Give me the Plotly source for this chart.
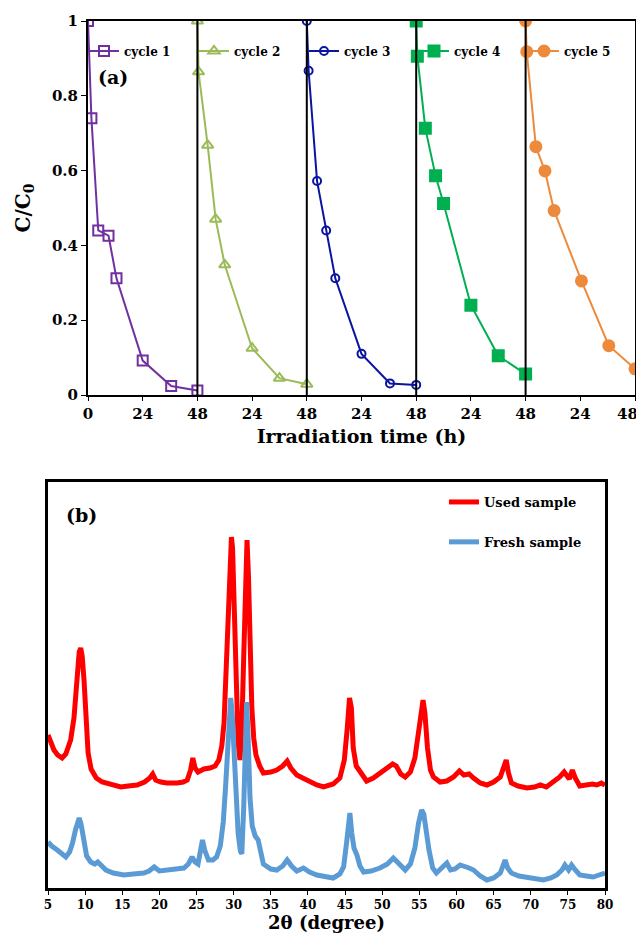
import plotly.graph_objects as go

# --- panel (a): photocatalytic cycles (time within each cycle, h) ---
cycle_names = ["cycle 1", "cycle 2", "cycle 3", "cycle 4", "cycle 5"]
cycle_len = 48

c1_t = [0, 1.5, 4.5, 9, 12.5, 24, 36.5, 48]
c1_y = [1.0, 0.74, 0.44, 0.426, 0.312, 0.092, 0.024, 0.012]
c2_t = [0, 0.5, 4.5, 8, 12, 24, 36, 48]
c2_y = [1.0, 0.864, 0.668, 0.47, 0.348, 0.125, 0.045, 0.029]
c3_t = [0, 0.8, 4.5, 8.5, 12.5, 24, 36.5, 48]
c3_y = [1.0, 0.867, 0.572, 0.44, 0.312, 0.11, 0.031, 0.027]
c4_t = [0, 0.5, 4, 8.5, 12, 24, 36, 48]
c4_y = [1.0, 0.906, 0.713, 0.586, 0.512, 0.24, 0.105, 0.056]
c5_t = [0, 0.5, 4.5, 8.5, 12.5, 24.5, 36.5, 48]
c5_y = [1.0, 0.918, 0.664, 0.599, 0.493, 0.305, 0.132, 0.07]

x_tickvals = [0, 24, 48, 72, 96, 120, 144, 168, 192, 216, 240]
# last label padded so it stays inside the page edge
x_ticktext = ["0", "24", "48", "24", "48", "24", "48", "24", "48", "24", "48\u2003"]

# --- panel (b): XRD patterns (2theta, intensity a.u.) ---
used_x = [5, 5.4, 5.8, 6.3, 6.9, 7.4, 8.05, 8.5, 8.9, 9.2, 9.4, 9.6, 9.85, 10.1, 10.4,
          10.8, 11.5, 12.3, 13.2, 14, 14.8, 15.8, 17, 18, 18.7, 19.1, 19.5, 20.2, 21,
          22.4, 23.2, 23.75, 24.2, 24.5, 24.8, 25.2, 26, 26.8, 27.5, 28, 28.4, 28.7,
          29.0, 29.3, 29.55, 29.7, 29.85, 30.05, 30.3, 30.6, 30.85, 31.1, 31.35, 31.6,
          31.8, 32.0, 32.2, 32.45, 32.7, 33.0, 33.5, 34, 35, 35.8, 36.6, 37.2, 37.7,
          38.5, 39.3, 40.3, 41.2, 42.1, 43.4, 44.3, 44.9, 45.3, 45.6, 45.85, 46.1,
          46.5, 46.9, 47.9, 48.8, 49.7, 50.6, 51.4, 51.9, 52.5, 53.1, 53.8, 54.4,
          54.9, 55.3, 55.5, 55.75, 56.1, 56.5, 56.9, 57.8, 58.7, 59.6, 60.4, 61.0,
          61.7, 62.3, 63.2, 64.1, 65.0, 65.9, 66.4, 66.7, 67.0, 67.4, 68.3, 69.5,
          70.5, 71.3, 72.1, 73.0, 73.9, 74.5, 74.9, 75.2, 75.6, 76.0, 76.6, 77.5,
          78.3, 78.9, 79.5, 80]
used_y = [153, 145, 138, 133, 130, 134, 148, 170, 212, 236, 240, 232, 208, 168, 135,
          119, 110, 106, 104, 102, 101, 102, 103, 106, 110, 114, 108, 106, 105,
          105, 106, 108, 118, 130, 120, 116, 119, 120, 122, 128, 142, 165,
          230, 300, 345, 351, 340, 280, 200, 145, 128, 160, 230, 320,
          348, 310, 240, 180, 150, 133, 122, 115, 116, 118, 122, 127, 120,
          113, 110, 106, 103, 101, 104, 110, 128, 160, 190, 180, 140,
          122, 118, 107, 110, 115, 119, 124, 122, 114, 111, 116, 130,
          160, 185, 188, 175, 140, 118, 111, 106, 107, 111, 117, 113,
          114, 110, 105, 103, 106, 111, 122, 128, 115, 105, 102, 100,
          101, 103, 101, 106, 111, 116, 112, 109, 118, 110, 102, 103,
          104, 103, 105, 103]

fresh_x = [5, 5.5, 6.25, 6.9, 7.4, 7.9, 8.3, 8.7, 9.0, 9.2, 9.45, 9.85, 10.2, 10.75,
           11.3, 11.7, 12.2, 12.8, 13.8, 15.2, 16.5, 17.9, 18.6, 19.3, 20, 21.5, 22.5,
           23.3, 23.9, 24.4, 24.8, 25.2, 25.5, 25.8, 26.1, 26.6, 27.2, 27.7, 28.2,
           28.6, 28.9, 29.2, 29.45, 29.6, 29.8, 30.0, 30.3, 30.6, 30.9, 31.1, 31.35,
           31.55, 31.75, 31.95, 32.2, 32.5, 32.9, 33.3, 33.6, 34, 35, 35.8, 36.6,
           37.2, 37.8, 38.5, 39.4, 40.2, 41.2, 42.3, 43.4, 44.3, 44.8, 45.2, 45.5,
           45.65, 45.9, 46.2, 46.6, 47, 47.5, 48.5, 49.7, 50.7, 51.5, 52.2, 53.1,
           53.8, 54.4, 54.9, 55.3, 55.6, 55.9, 56.3, 56.8, 57.3, 58, 58.7, 59.2,
           59.8, 60.5, 61, 61.7, 62.3, 63.2, 64.1, 65, 65.9, 66.3, 66.55, 66.9,
           67.4, 68.4, 69.5, 70.6, 71.7, 72.7, 73.5, 74.2, 74.6, 75.1, 75.5, 76,
           76.6, 77.5, 78.4, 79.2, 80]
fresh_y = [46, 42, 38, 34, 31, 36, 45, 58, 68, 70, 64, 42, 32, 26,
           24, 26, 22, 18, 15, 13, 14, 15, 17, 21, 17, 18, 19,
           20, 24, 31, 26, 24, 36, 48, 38, 28, 28, 31, 42,
           66, 100, 150, 182, 190, 175, 140, 95, 55, 37, 34, 80,
           150, 186, 150, 90, 62, 52, 48, 35, 24, 19, 18, 22,
           28, 22, 17, 20, 16, 13, 11, 10, 14, 21, 45, 72,
           75, 55, 40, 33, 22, 16, 17, 20, 24, 30, 24, 18,
           24, 40, 65, 78, 74, 58, 38, 20, 15, 20, 25, 18,
           19, 23, 22, 20, 18, 12, 8, 10, 15, 22, 28, 20,
           15, 12, 11, 10, 8, 10, 13, 18, 23, 18, 23, 18,
           13, 12, 11, 13, 15]

# page body has an 8px margin, so the figure is drawn 8px in from the corner
OFF = 8
W, H = 644 - OFF, 936 - OFF


def px(x):
    return (x - OFF) / W


def py(y):
    return 1 - (y - OFF) / H


SERIF = "DejaVu Serif"

cycles = [(c1_t, c1_y), (c2_t, c2_y), (c3_t, c3_y), (c4_t, c4_y), (c5_t, c5_y)]
colors = ["#7030A0", "#9BBB59", "#0A14A0", "#00B050", "#EE8A3C"]
symbols = ["square-open", "triangle-up-open", "circle-open", "square", "circle"]
sizes = [10, 10, 8, 11, 11]

fig = go.Figure()

for i, (t, y) in enumerate(cycles):
    fig.add_trace(go.Scatter(
        x=[v + i * cycle_len for v in t], y=y, name=cycle_names[i],
        mode="lines+markers", xaxis="x", yaxis="y", legend="legend",
        line=dict(color=colors[i], width=2),
        marker=dict(symbol=symbols[i], size=sizes[i], color=colors[i],
                    line=dict(color=colors[i], width=2)),
    ))

fig.add_trace(go.Scatter(
    x=used_x, y=used_y, name="Used sample", mode="lines",
    xaxis="x2", yaxis="y2", legend="legend2", legendgroup="used",
    line=dict(color="#FF0000", width=5),
))
fig.add_trace(go.Scatter(
    x=fresh_x, y=fresh_y, name="Fresh sample", mode="lines",
    xaxis="x2", yaxis="y2", legend="legend2", legendgroup="fresh",
    line=dict(color="#5B9BD5", width=5),
))

# vertical separators between cycles
for k in range(1, 5):
    fig.add_shape(type="line", xref="x", yref="y", x0=k * cycle_len, x1=k * cycle_len,
                  y0=0, y1=1, line=dict(color="black", width=2))

bold = dict(family=SERIF, color="black", weight="bold")

fig.update_layout(
    width=W, height=H,
    margin=dict(l=0, r=0, t=0, b=0),
    paper_bgcolor="white", plot_bgcolor="white",
    xaxis=dict(domain=[px(88), px(635)], range=[0, 240], tickvals=x_tickvals,
               ticktext=x_ticktext, showgrid=False, zeroline=False, automargin=False,
               showline=True, linecolor="black", linewidth=2, mirror=True,
               ticks="outside", ticklen=4, tickcolor="black", ticklabeloverflow="allow",
               tickfont=dict(size=15, **bold),
               title=dict(text="Irradiation time (h)", font=dict(size=19, **bold),
                          standoff=8),
               anchor="y"),
    yaxis=dict(domain=[py(395), py(21)], range=[0, 1], tickvals=[0, 0.2, 0.4, 0.6, 0.8, 1],
               ticktext=["0", "0.2", "0.4", "0.6", "0.8", "1"],
               showgrid=False, zeroline=False, automargin=False,
               showline=True, linecolor="black", linewidth=2, mirror=True,
               ticks="outside", ticklen=5, tickcolor="black",
               tickfont=dict(size=15, **bold),
               title=dict(text="C/C<sub>0</sub>", font=dict(size=20, **bold),
                          standoff=16),
               anchor="x"),
    xaxis2=dict(domain=[px(48), px(605)], range=[5, 80], dtick=5, tick0=5,
                showgrid=False, zeroline=False, automargin=False,
                showline=True, linecolor="black", linewidth=2.5, mirror=True,
                ticks="outside", ticklen=4, tickcolor="black", ticklabeloverflow="allow",
                tickfont=dict(size=12, **bold),
                title=dict(text="2θ (degree)", font=dict(size=18, **bold), standoff=4),
                anchor="y2"),
    yaxis2=dict(domain=[py(888), py(482)], range=[0, 406],
                showgrid=False, zeroline=False, showticklabels=False, automargin=False,
                showline=True, linecolor="black", linewidth=2.5, mirror=True,
                ticks="", anchor="x2"),
    legend=dict(orientation="h", x=px(84), y=py(51), xanchor="left", yanchor="middle",
                bgcolor="rgba(0,0,0,0)", font=dict(size=12, **bold),
                entrywidth=65, entrywidthmode="pixels", itemwidth=30,
                itemclick=False),
    legend2=dict(orientation="v", x=px(444), y=py(522), xanchor="left", yanchor="middle",
                 bgcolor="rgba(0,0,0,0)", font=dict(size=13, **bold),
                 tracegroupgap=20, itemwidth=30),
    annotations=[
        dict(text="(a)", x=px(96), y=py(77), xref="paper", yref="paper",
             xanchor="left", yanchor="middle", showarrow=False,
             font=dict(size=19, **bold)),
        dict(text="(b)", x=px(64), y=py(515), xref="paper", yref="paper",
             xanchor="left", yanchor="middle", showarrow=False,
             font=dict(size=19, **bold)),
    ],
)

fig.write_html("out.html")
